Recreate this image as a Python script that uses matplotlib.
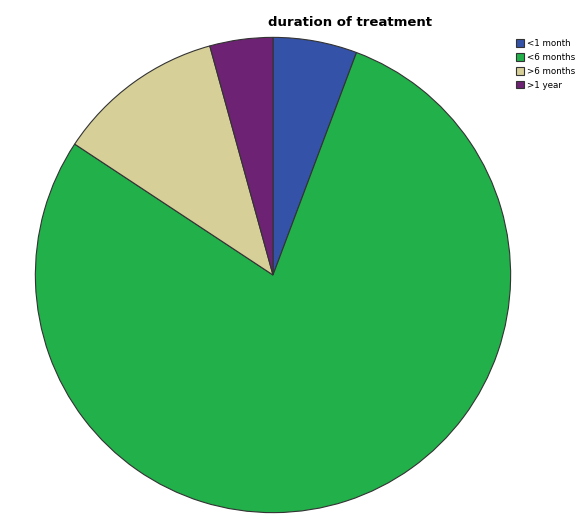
import matplotlib.pyplot as plt

labels = ["<1 month", "<6 months", ">6 months", ">1 year"]
counts = [4, 55, 8, 3]
colors = ["#3352a8", "#22b04b", "#d6cf98", "#6e2273"]

fig = plt.figure(figsize=(5.83, 5.18), dpi=100)
ax = fig.add_axes([33 / 583, 3 / 518, 480 / 583, 480 / 518])
wedges, _ = ax.pie(counts, colors=colors, startangle=90, counterclock=False,
                   radius=1, wedgeprops=dict(edgecolor="#333333", linewidth=0.8))
ax.set_xlim(-1.01, 1.01)
ax.set_ylim(-1.01, 1.01)
ax.set_aspect("equal")
ax.axis("off")

fig.text(350 / 583, 1 - 22 / 518, "duration of treatment", ha="center", va="center",
         fontsize=9.5, fontweight="bold")

leg = fig.legend(wedges, labels, loc="upper left", bbox_to_anchor=(510 / 583, 1 - 33 / 518),
                 fontsize=6.3, frameon=False, handlelength=0.9, handleheight=1.0,
                 handletextpad=0.3, labelspacing=0.55, borderpad=0.2)

fig.savefig("out.png", dpi=100)
